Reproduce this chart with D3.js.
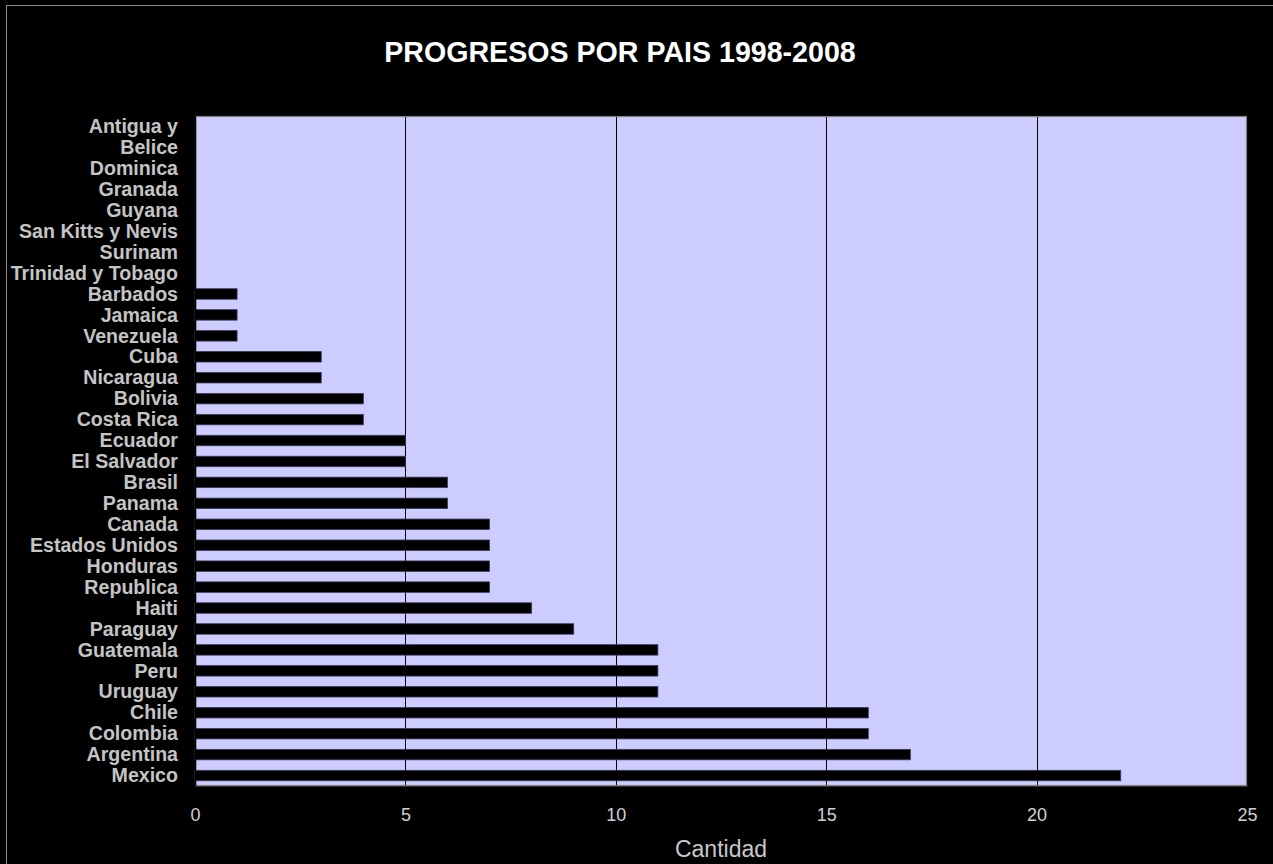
<!DOCTYPE html>
<html>
<head>
<meta charset="utf-8">
<script src="https://cdn.jsdelivr.net/npm/d3@7"></script>
<style>
  html, body { margin: 0; padding: 0; background: #000; }
  svg { display: block; }
</style>
</head>
<body>
<svg id="chart" width="1273" height="864"></svg>
<script>
// Countries, top to bottom as they appear on the axis
const countries = [
  "Antigua y", "Belice", "Dominica", "Granada", "Guyana", "San Kitts y Nevis",
  "Surinam", "Trinidad y Tobago", "Barbados", "Jamaica", "Venezuela", "Cuba",
  "Nicaragua", "Bolivia", "Costa Rica", "Ecuador", "El Salvador", "Brasil",
  "Panama", "Canada", "Estados Unidos", "Honduras", "Republica", "Haiti",
  "Paraguay", "Guatemala", "Peru", "Uruguay", "Chile", "Colombia",
  "Argentina", "Mexico"
];
// Number of progresses per country, same order
const cantidad = [
  0, 0, 0, 0, 0, 0,
  0, 0, 1, 1, 1, 3,
  3, 4, 4, 5, 5, 6,
  6, 7, 7, 7, 7, 8,
  9, 11, 11, 11, 16, 16,
  17, 22
];
const xTicks = [0, 5, 10, 15, 20, 25];
const titleText = "PROGRESOS POR PAIS 1998-2008";
const xTitle = "Cantidad";

const svg = d3.select("#chart");
const W = 1273, H = 864;
const plot = { left: 195, top: 116, right: 1247, bottom: 786 };

// Outer chart frame
svg.append("rect")
  .attr("x", 6.5).attr("y", 5.5)
  .attr("width", W + 20).attr("height", H + 20)
  .attr("fill", "#000").attr("stroke", "#8c8c8c").attr("stroke-width", 1);

const x = d3.scaleLinear().domain([0, 25]).range([plot.left, plot.right]);
const y = d3.scaleBand().domain(countries).range([plot.top, plot.bottom]).paddingInner(0.5).paddingOuter(0.25);

// Plot background
svg.append("rect")
  .attr("x", plot.left).attr("y", plot.top)
  .attr("width", plot.right - plot.left).attr("height", plot.bottom - plot.top)
  .attr("fill", "#ccccff");

// Vertical gridlines
svg.append("g")
  .selectAll("line")
  .data(xTicks.filter(t => t > 0 && t < 25))
  .join("line")
  .attr("x1", d => Math.round(x(d)) + 0.5).attr("x2", d => Math.round(x(d)) + 0.5)
  .attr("y1", plot.top).attr("y2", plot.bottom)
  .attr("stroke", "#000").attr("stroke-width", 1);

// Plot frame
svg.append("rect")
  .attr("x", plot.left + 0.5).attr("y", plot.top + 0.5)
  .attr("width", plot.right - plot.left - 1).attr("height", plot.bottom - plot.top - 1)
  .attr("fill", "none").attr("stroke", "#808080").attr("stroke-width", 1.2);

// Bars
svg.append("g")
  .selectAll("rect")
  .data(countries.map((c, i) => ({ c, v: cantidad[i] })).filter(d => d.v > 0))
  .join("rect")
  .attr("x", x(0))
  .attr("y", d => y(d.c))
  .attr("width", d => x(d.v) - x(0))
  .attr("height", y.bandwidth())
  .attr("fill", "#000")
  .attr("stroke", "#3a3a5c").attr("stroke-width", 0.8);

// Category axis
const yAxis = svg.append("g")
  .attr("transform", `translate(${plot.left},0)`)
  .call(d3.axisLeft(y).tickSize(0).tickPadding(17));
yAxis.select(".domain").attr("stroke", "#000").attr("stroke-width", 1.5);
yAxis.selectAll(".tick").attr("transform", d => {
  const step = (plot.bottom - plot.top) / countries.length;
  const i = countries.indexOf(d);
  return `translate(0,${plot.top + step * (i + 0.5)})`;
});
yAxis.selectAll("text")
  .attr("fill", "#c4c4c4")
  .attr("font-family", "Liberation Sans, Arial, sans-serif")
  .attr("font-weight", "bold")
  .attr("font-size", "19.6px")
  .attr("dy", "0.34em");

// Value axis
const xAxis = svg.append("g")
  .attr("transform", `translate(0,${plot.bottom})`)
  .call(d3.axisBottom(x).tickValues(xTicks).tickSize(0).tickPadding(22).tickFormat(d3.format("d")));
xAxis.select(".domain").attr("stroke", "#333").attr("stroke-width", 1);
xAxis.selectAll("text")
  .attr("fill", "#d0d0d0")
  .attr("font-family", "Liberation Sans, Arial, sans-serif")
  .attr("font-size", "18px");

// Axis title
svg.append("text")
  .attr("x", (plot.left + plot.right) / 2)
  .attr("y", 857)
  .attr("text-anchor", "middle")
  .attr("fill", "#c8c8c8")
  .attr("font-family", "Liberation Sans, Arial, sans-serif")
  .attr("font-size", "23px")
  .text(xTitle);

// Chart title
svg.append("text")
  .attr("x", 620)
  .attr("y", 62)
  .attr("text-anchor", "middle")
  .attr("fill", "#ffffff")
  .attr("font-family", "Liberation Sans, Arial, sans-serif")
  .attr("font-weight", "bold")
  .attr("font-size", "28.6px")
  .text(titleText);
</script>
</body>
</html>
